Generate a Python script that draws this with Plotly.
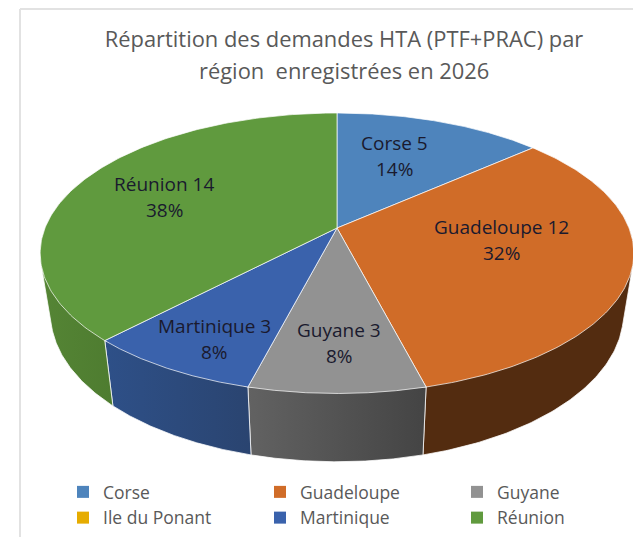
import numpy as np
import plotly.graph_objects as go

# ---- data ----
categories = ["Corse", "Guadeloupe", "Guyane", "Ile du Ponant", "Martinique", "Réunion"]
values = [5, 12, 3, 0, 3, 14]
percent_labels = ["14%", "32%", "8%", "0%", "8%", "38%"]

# ---- styles ----
top_colors = ["#4E84BC", "#D06C28", "#929292", "#E6AC00", "#3A62AC", "#609A3E"]
side_scales = [
    ["#2F5072", "#2F5072"],
    ["#532C10", "#532C10"],
    ["#626262", "#444444"],
    ["#8A6700", "#8A6700"],
    ["#2E5088", "#2A4470"],
    ["#558535", "#4E7C30"],
]
label_anchor = {
    "Corse": (394, 143, 169),
    "Guadeloupe": (501, 227, 253),
    "Guyane": (339, 330, 356),
    "Martinique": (214, 326, 352),
    "Réunion": (164, 184, 210),
}
FONT = "Open Sans, Noto Sans, sans-serif"
CX, CY = 337.0, 228.0
K, A, B = 0.18, 135.7, 292.0
DEPTH, SX, SY = 59.0, 0.965, 1.056


def project(theta_deg, r=1.0, floor=False):
    t = np.radians(theta_deg)
    u, v = r * np.sin(t), r * np.cos(t)
    w = 1 + K * v
    x, y = B * u / w, -A * v / w
    if floor:
        return CX + SX * x, CY + SY * y + DEPTH
    return CX + x, CY + y


def hull(points):
    pts = sorted(set(points))

    def half(seq):
        out = []
        for p in seq:
            while len(out) > 1 and (out[-1][0] - out[-2][0]) * (p[1] - out[-2][1]) - (out[-1][1] - out[-2][1]) * (p[0] - out[-2][0]) <= 0:
                out.pop()
            out.append(p)
        return out[:-1]

    ring = half(pts) + half(pts[::-1])
    return ring + ring[:1]


total = sum(values)
edges = np.concatenate([[0.0], np.cumsum(values) / total * 360.0])
fig = go.Figure()

# side walls: swept hull between the top rim and the floor rim, front part only
for i, name in enumerate(categories):
    lo, hi = max(edges[i], 70.0), min(edges[i + 1], 290.0)
    if hi <= lo:
        continue
    th = np.linspace(lo, hi, 120)
    xt, yt = project(th)
    xb, yb = project(th, floor=True)
    ring = hull(list(zip(np.r_[xt, xb].tolist(), np.r_[yt, yb].tolist())))
    fig.add_trace(go.Scatter(
        x=[p[0] for p in ring], y=[p[1] for p in ring], mode="lines", fill="toself",
        line=dict(color="rgba(255,255,255,0.75)", width=1), showlegend=False, hoverinfo="skip",
        fillgradient=dict(type="horizontal", colorscale=[[0, side_scales[i][0]], [1, side_scales[i][1]]]),
    ))

# top faces
for i, name in enumerate(categories):
    if values[i] == 0:
        continue
    th = np.linspace(edges[i], edges[i + 1], 160)
    xt, yt = project(th)
    fig.add_trace(go.Scatter(
        x=np.r_[CX, xt, CX], y=np.r_[CY, yt, CY], mode="lines", fill="toself",
        fillcolor=top_colors[i], line=dict(color="rgba(255,255,255,0.7)", width=1),
        showlegend=False, name=name, hoverinfo="name",
    ))

# legend entries
for i, name in enumerate(categories):
    fig.add_trace(go.Scatter(x=[None], y=[None], mode="markers", name=name,
                             marker=dict(symbol="square", size=10, color=top_colors[i])))

# labels
anns = [dict(x=344, y=70, text="région  enregistrées en 2026", showarrow=False, xanchor="center",
             yanchor="middle", font=dict(family=FONT, size=21.9, color="#595959"))]
for i, name in enumerate(categories):
    if name not in label_anchor:
        continue
    x, y1, y2 = label_anchor[name]
    anns.append(dict(x=x, y=y1, text=f"{name} {values[i]}", showarrow=False, yanchor="middle",
                     font=dict(family=FONT, size=19, color="#1a1a2e")))
    anns.append(dict(x=x, y=y2, text=percent_labels[i], showarrow=False, yanchor="middle",
                     font=dict(family=FONT, size=19, color="#1a1a2e")))

frame = dict(color="#E2E2E2", width=2)
fig.update_layout(
    width=633, height=537, margin=dict(l=0, r=0, t=0, b=0, autoexpand=False),
    paper_bgcolor="white", plot_bgcolor="white",
    title=dict(text="Répartition des demandes HTA (PTF+PRAC) par", x=344 / 633, xanchor="center",
               y=1 - 39 / 537, yanchor="middle", font=dict(family=FONT, size=21.9, color="#595959")),
    xaxis=dict(range=[0, 633], visible=False, fixedrange=True),
    yaxis=dict(range=[537, 0], visible=False, fixedrange=True),
    annotations=anns,
    shapes=[
        dict(type="line", x0=20, x1=20, y0=9, y1=537, line=frame),
        dict(type="line", x0=20, x1=633, y0=9, y1=9, line=frame),
    ],
    legend=dict(orientation="h", x=71 / 633, xanchor="left", y=1 - 474 / 537, yanchor="top",
                entrywidth=160, entrywidthmode="pixels", traceorder="normal", indentation=-8,
                font=dict(family=FONT, size=17.5, color="#595959"), bgcolor="rgba(0,0,0,0)",
                itemsizing="constant", tracegroupgap=0),
)
fig.write_html("out.html", post_script="document.body.style.margin='0';",
               config=dict(displayModeBar=False))
